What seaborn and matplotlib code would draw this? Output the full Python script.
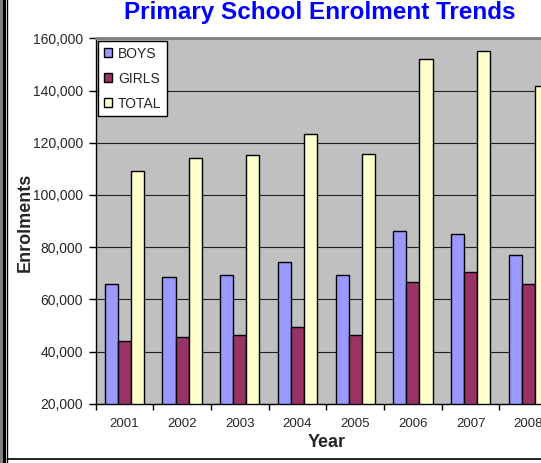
import numpy as np
import pandas as pd
import matplotlib
matplotlib.use("Agg")
import matplotlib.pyplot as plt
import seaborn as sns
from matplotlib.ticker import FuncFormatter
from matplotlib.lines import Line2D
from matplotlib.patches import Rectangle

# Data
years = ["2001", "2002", "2003", "2004", "2005", "2006", "2007", "2008"]
boys = [66000, 68500, 69300, 74200, 69500, 86000, 85000, 76800]
girls = [44000, 45500, 46500, 49500, 46500, 66500, 70300, 65700]
total = [109300, 114200, 115200, 123400, 115700, 152100, 155000, 141800]
series = ["BOYS", "GIRLS", "TOTAL"]
colors = ["#9999FF", "#993366", "#FFFFCC"]

df = pd.DataFrame({
    "Year": years * 3,
    "Enrolments": boys + girls + total,
    "Series": [s for s in series for _ in years],
})

sns.set_style("white")
plt.rcParams["font.family"] = ["Liberation Sans", "DejaVu Sans"]

W, H = 541, 463
fig = plt.figure(figsize=(W / 100, H / 100), dpi=100)
fig.patch.set_facecolor("white")

# plot area runs past the right edge (chart is cropped in the reference)
left, right, top, bottom = 95.5, 557.2, 38.3, 403.7
ax = fig.add_axes([left / W, 1 - bottom / H, (right - left) / W, (bottom - top) / H])

sns.barplot(data=df, x="Year", y="Enrolments", hue="Series", hue_order=series,
            palette=colors, saturation=1, width=0.68, gap=0, errorbar=None,
            edgecolor="black", linewidth=1, ax=ax)

ax.set_xlim(-0.5, len(years) - 0.5)
ax.set_ylim(20000, 160000)
ax.set_facecolor("#C0C0C0")
ax.set_yticks(range(20000, 160001, 20000))
ax.yaxis.set_major_formatter(FuncFormatter(lambda v, p: f"{int(v):,}"))
ax.yaxis.grid(True, color="#202020", linewidth=0.8)
ax.set_axisbelow(True)

for side in ["left", "bottom"]:
    ax.spines[side].set_color("black")
    ax.spines[side].set_linewidth(1)
ax.spines["top"].set_color("#808080")
ax.spines["top"].set_linewidth(2)

ax.tick_params(axis="y", left=True, direction="out", length=5, width=1,
               color="black", labelsize=10, pad=4)
ax.tick_params(axis="x", which="major", bottom=True, length=0, labelsize=9.5, pad=10)
ax.set_xticks(np.arange(-0.5, len(years), 1), minor=True)
ax.tick_params(axis="x", which="minor", bottom=True, direction="out", length=4,
               width=1, color="black")

ax.set_xlabel("Year", fontsize=13, fontweight="bold", labelpad=3)
ax.set_ylabel("")
fig.text(25 / W, 1 - 222 / H, "Enrolments", rotation=90, fontsize=13,
         fontweight="bold", ha="center", va="center")

leg = ax.legend(loc="upper left", bbox_to_anchor=(98 / W, 1 - 41 / H),
                bbox_transform=fig.transFigure, frameon=True, fancybox=False,
                edgecolor="black", framealpha=1, fontsize=10, handlelength=0.6,
                handleheight=0.6, handletextpad=0.45, labelspacing=0.8,
                borderpad=0.4, borderaxespad=0)
leg.get_frame().set_linewidth(1)

fig.text(320 / W, 1 - 12 / H, "Primary School Enrolment Trends", color="#0000FF",
         fontsize=17.5, fontweight="bold", ha="center", va="center")

# chart frame (left and bottom edges visible)
fig.add_artist(Rectangle((0, 0), 3 / W, 1, transform=fig.transFigure,
                         facecolor="#808080", edgecolor="none"))
fig.add_artist(Rectangle((3 / W, 0), 3 / W, 1, transform=fig.transFigure,
                         facecolor="black", edgecolor="none"))
fig.add_artist(Line2D([7.2 / W, 7.2 / W], [0, 1], transform=fig.transFigure,
                      color="black", linewidth=1))
fig.add_artist(Line2D([7 / W, 1], [1 - 458.7 / H, 1 - 458.7 / H],
                      transform=fig.transFigure, color="black", linewidth=1.2))

fig.savefig("out.png", dpi=100)
